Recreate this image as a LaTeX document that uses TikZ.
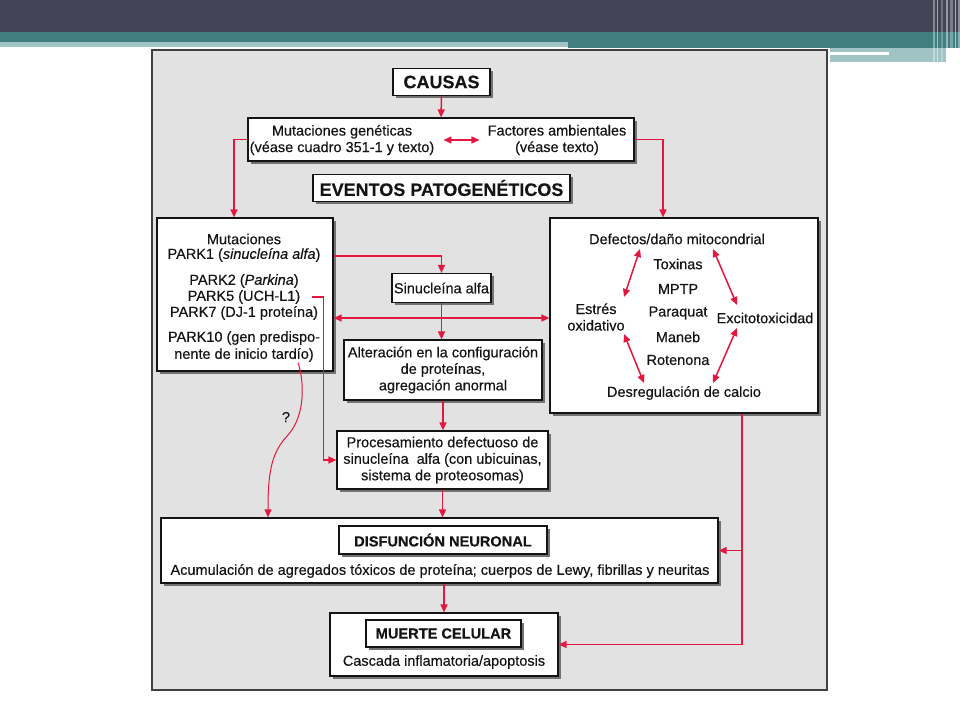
\documentclass[tikz,border=0pt]{standalone}
\usepackage{fontspec}
\setmainfont{Liberation Sans}[FakeBold=0.35]
\usetikzlibrary{arrows.meta,shadows}
\definecolor{arrred}{RGB}{228,24,62}
\definecolor{hdark}{RGB}{66,68,86}
\definecolor{hteal}{RGB}{64,126,128}
\definecolor{hlight}{RGB}{160,196,198}
\definecolor{framegray}{RGB}{226,226,226}
\definecolor{ink}{RGB}{20,20,20}
\tikzset{
  box/.style={draw=ink, line width=1.2pt, fill=white, inner sep=0pt,
    drop shadow={shadow xshift=2.5pt, shadow yshift=-2.5pt, fill=black!55, opacity=1}},
  txt/.style={text=ink, font=\fontsize{14.5}{16.5}\selectfont, inner sep=0pt, align=center},
  ttl/.style={txt, font=\fontsize{18}{21}\selectfont\bfseries},
  sttl/.style={txt, font=\fontsize{14.6}{17}\selectfont\bfseries},
  arr/.style={draw=arrred, line width=1.5pt, -{Triangle[length=8pt,width=7pt]}},
  darr/.style={draw=arrred, line width=1.5pt, {Triangle[length=8pt,width=7pt]}-{Triangle[length=8pt,width=7pt]}},
}
\begin{document}
\begin{tikzpicture}[x=1pt,y=-1pt]
\useasboundingbox (0,0) rectangle (960,720);
% slide header
\fill[hdark] (0,0) rectangle (960,32);
\fill[hteal] (0,32) rectangle (960,42);
\fill[hlight] (0,42) rectangle (568,47);
\fill[hteal] (568,42) rectangle (960,48);
\fill[hlight] (830,48) rectangle (946,62);
\fill[white] (830,52) rectangle (889,55);
\foreach \xa/\w/\op in {933/1.5/0.35, 937/1/0.5, 941/2/0.25, 946/1.5/0.45, 950/3/0.3, 955/1/0.55, 958/2/0.4}
  \fill[white,opacity=\op] (\xa,0) rectangle ++(\w,64);
% frame
\draw[fill=framegray, draw=black!75, line width=1.6pt] (152,50) rectangle (827,690);

% causes
\node[box, ttl, minimum width=97pt, minimum height=27pt] (causas) at (441.5,82) {CAUSAS};
\node[box, minimum width=386pt, minimum height=43pt] (causesbox) at (441,139.5) {};
\node[txt] (mut) at (342,140) {Mutaciones genéticas\\(véase cuadro 351-1 y texto)};
\node[txt] (fact) at (557,140) {Factores ambientales\\(véase texto)};
\node[box, ttl, minimum width=257pt, minimum height=27pt] (eventos) at (441.5,188) {EVENTOS PATOGENÉTICOS};

% left box
\node[box, minimum width=176pt, minimum height=153pt] (leftbox) at (245,294.5) {};
\node[txt] (l1) at (244,239) {Mutaciones};
\node[txt] (park1) at (244,255) {PARK1 (\textit{sinucleína alfa})};
\node[txt] (park2) at (244,281) {PARK2 (\textit{Parkina})};
\node[txt] (park5) at (244,297) {PARK5 (UCH-L1)};
\node[txt] (park7) at (244,313) {PARK7 (DJ-1 proteína)};
\node[txt] (park10a) at (244,338) {PARK10 (gen predispo-};
\node[txt] (park10b) at (244,355) {nente de inicio tardío)};

% middle column
\node[box, txt, minimum width=99pt, minimum height=29pt] (sinu) at (441.5,288) {Sinucleína alfa};
\node[box, txt, minimum width=198pt, minimum height=60pt] (alter) at (443,370) {Alteración en la configuración\\de proteínas,\\agregación anormal};
\node[box, txt, minimum width=211pt, minimum height=58pt] (proc) at (442.5,460) {Procesamiento defectuoso de\\sinucleína\ \ alfa (con ubicuinas,\\sistema de proteosomas)};

% right box
\node[box, minimum width=268pt, minimum height=195pt] (rightbox) at (684,315.5) {};
\node[txt] (defect) at (677,239) {Defectos/daño mitocondrial};
\node[txt] (toxinas) at (678,264) {Toxinas};
\node[txt] (mptp) at (678,289) {MPTP};
\node[txt] (paraquat) at (678,313) {Paraquat};
\node[txt] (maneb) at (678,337) {Maneb};
\node[txt] (rotenona) at (678,360) {Rotenona};
\node[txt] (estres) at (596,317) {Estrés\\oxidativo};
\node[txt] (excito) at (765,318) {Excitotoxicidad};
\node[txt] (desreg) at (684,393) {Desregulación de calcio};

% lower boxes
\node[box, minimum width=557pt, minimum height=65pt] (disf) at (439.5,550.5) {};
\node[box, sttl, minimum width=208pt, minimum height=28pt] (disft) at (443,540) {DISFUNCIÓN NEURONAL};
\node[txt] (acum) at (440,571) {Acumulación de agregados tóxicos de proteína; cuerpos de Lewy, fibrillas y neuritas};
\node[box, minimum width=228pt, minimum height=63pt] (muerte) at (444,644.5) {};
\node[box, sttl, minimum width=155pt, minimum height=27pt] (muertet) at (443.5,633.5) {MUERTE CELULAR};
\node[txt] (casc) at (444,662) {Cascada inflamatoria/apoptosis};

% connectors
\draw[arr] (causas.south) -- (causesbox.north);
\draw[darr, shorten <=9pt, shorten >=8pt] (mut.east) -- (fact.west);
\draw[arr] (causesbox.west) -| ([xshift=-11pt]leftbox.north);
\draw[arr] (causesbox.east) -| ([xshift=-21pt]rightbox.north);
\draw[arr] ([yshift=-1pt]park1.center -| leftbox.east) -| (sinu.north);
\coordinate (midy) at (0,318);
\draw[darr] (midy -| leftbox.east) -- (midy -| rightbox.west);
\draw[arr] (sinu.south) -- (sinu.south |- alter.north);
\draw[arr] (alter.south) -- (alter.south |- proc.north);
\draw[arr] ([xshift=12pt]park5.east) -- ++(11,0) |- (proc.west);
\coordinate (qmid) at (288,435);
\draw[arr, line width=1pt] ([xshift=53pt,yshift=9pt]leftbox.south) .. controls (304,380) and (306,415) .. (qmid) .. controls (272,452) and (268,470) .. ([xshift=-171.5pt]disf.north);
\node[txt] (qm) at (286,417) {?};
\draw[arr] (proc.south) -- (proc.south |- disf.north);
\draw[arr] (muerte.north |- disf.south) -- (muerte.north);
\coordinate (rl) at ([xshift=58pt]rightbox.south);
\draw[arr] (rl) |- (muerte.east);
\draw[arr] (disf.east -| rl) -- (disf.east);

% right box internal arrows
\draw[darr] ([xshift=-37pt,yshift=-10pt]defect.center) -- ([xshift=28pt,yshift=20pt]estres.center);
\draw[darr] ([xshift=36pt,yshift=-10pt]defect.center) -- ([xshift=-28pt,yshift=13pt]excito.center);
\draw[darr] ([xshift=28pt,yshift=-17pt]estres.center) -- ([xshift=-40pt,yshift=10pt]desreg.center);
\draw[darr] ([xshift=-28pt,yshift=-10pt]excito.center) -- ([xshift=29pt,yshift=10pt]desreg.center);
\end{tikzpicture}
\end{document}
